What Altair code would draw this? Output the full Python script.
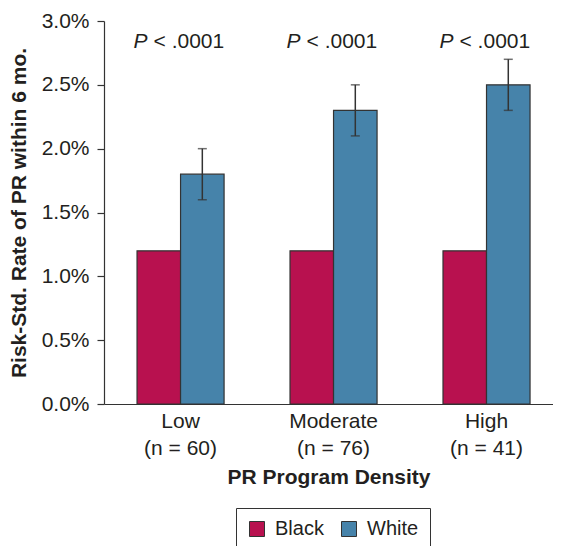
import altair as alt
import pandas as pd

groups = ["Low", "Moderate", "High"]
n_labels = ["(n = 60)", "(n = 76)", "(n = 41)"]
races = ["Black", "White"]
black_rate = [0.012, 0.012, 0.012]
white_rate = [0.018, 0.023, 0.025]
white_lo = [0.016, 0.021, 0.023]
white_hi = [0.020, 0.025, 0.027]
p_text = ["< .0001", "< .0001", "< .0001"]
p_y = 0.02836

labels = [f"{g}|{n}" for g, n in zip(groups, n_labels)]

bars = pd.DataFrame({
    "group": labels * 2,
    "race": ["Black"] * 3 + ["White"] * 3,
    "rate": black_rate + white_rate,
})
errs = pd.DataFrame({
    "group": labels,
    "race": ["White"] * 3,
    "lo": white_lo,
    "hi": white_hi,
})
ptab = pd.DataFrame({"group": labels, "p": p_text, "y": [p_y] * 3})

FONT = "Liberation Sans"
TXT = "#231f20"
FS = 21

x = alt.X(
    "group:N",
    sort=labels,
    scale=alt.Scale(paddingInner=0.431, paddingOuter=0.183, align=0.59),
    axis=alt.Axis(
        title="PR Program Density",
        labelExpr="split(datum.label, '|')",
        labelAngle=0,
        ticks=False,
        labelPadding=6,
        labelLineHeight=27,
        titlePadding=8,
    ),
)
xo = alt.XOffset("race:N", sort=races)

y_scale = alt.Scale(domain=[0, 0.03], nice=False)

bar = alt.Chart(bars).mark_bar(stroke="#333333", strokeWidth=1.2).encode(
    x=x,
    xOffset=xo,
    y=alt.Y(
        "rate:Q",
        scale=y_scale,
        axis=alt.Axis(
            title="Risk-Std. Rate of PR within 6 mo.",
            format=".1%",
            values=[0, 0.005, 0.01, 0.015, 0.02, 0.025, 0.03],
            grid=False,
            tickSize=7,
            labelPadding=8,
            titlePadding=12,
        ),
    ),
    color=alt.Color(
        "race:N",
        sort=races,
        scale=alt.Scale(domain=races, range=["#b8114f", "#4683aa"]),
        legend=alt.Legend(
            title=None,
            orient="none",
            legendX=132,
            legendY=487,
            direction="horizontal",
            symbolType="square",
            symbolSize=225,
            symbolStrokeColor="#333333",
            symbolStrokeWidth=1,
            labelFontSize=20,
            labelFont=FONT,
            labelColor=TXT,
            strokeColor="#333333",
            padding=11,
            columnPadding=15,
            labelOffset=8,
        ),
    ),
)

rule = alt.Chart(errs).mark_rule(color="#333333", strokeWidth=1.5).encode(
    x=x, xOffset=xo, y=alt.Y("lo:Q", scale=y_scale), y2="hi:Q"
)
cap_lo = alt.Chart(errs).mark_tick(color="#333333", thickness=1.5, size=9).encode(
    x=x, xOffset=xo, y=alt.Y("lo:Q", scale=y_scale)
)
cap_hi = alt.Chart(errs).mark_tick(color="#333333", thickness=1.5, size=9).encode(
    x=x, xOffset=xo, y=alt.Y("hi:Q", scale=y_scale)
)

p_it = alt.Chart(ptab).mark_text(
    text="P", fontStyle="italic", fontSize=FS, font=FONT, color=TXT, align="right", dx=-33
).encode(x=x, y=alt.Y("y:Q", scale=y_scale))
p_rest = alt.Chart(ptab).mark_text(
    fontSize=FS, font=FONT, color=TXT, align="left", dx=-27
).encode(x=x, y=alt.Y("y:Q", scale=y_scale), text="p:N")

chart = (
    alt.layer(bar, rule, cap_lo, cap_hi, p_it, p_rest)
    .properties(
        width=449,
        height=383,
        autosize=alt.AutoSizeParams(type="none"),
        padding={"left": 96, "top": 13, "right": 0, "bottom": 142},
    )
    .configure_view(stroke=None)
    .configure_axis(
        labelFont=FONT,
        titleFont=FONT,
        labelFontSize=FS,
        titleFontSize=FS,
        labelColor=TXT,
        titleColor=TXT,
        domainColor="#333333",
        tickColor="#333333",
        domainWidth=1.2,
        tickWidth=1.2,
        titleFontWeight="bold",
    )
)

chart.save("out.html", embed_options={"renderer": "svg", "actions": False})
